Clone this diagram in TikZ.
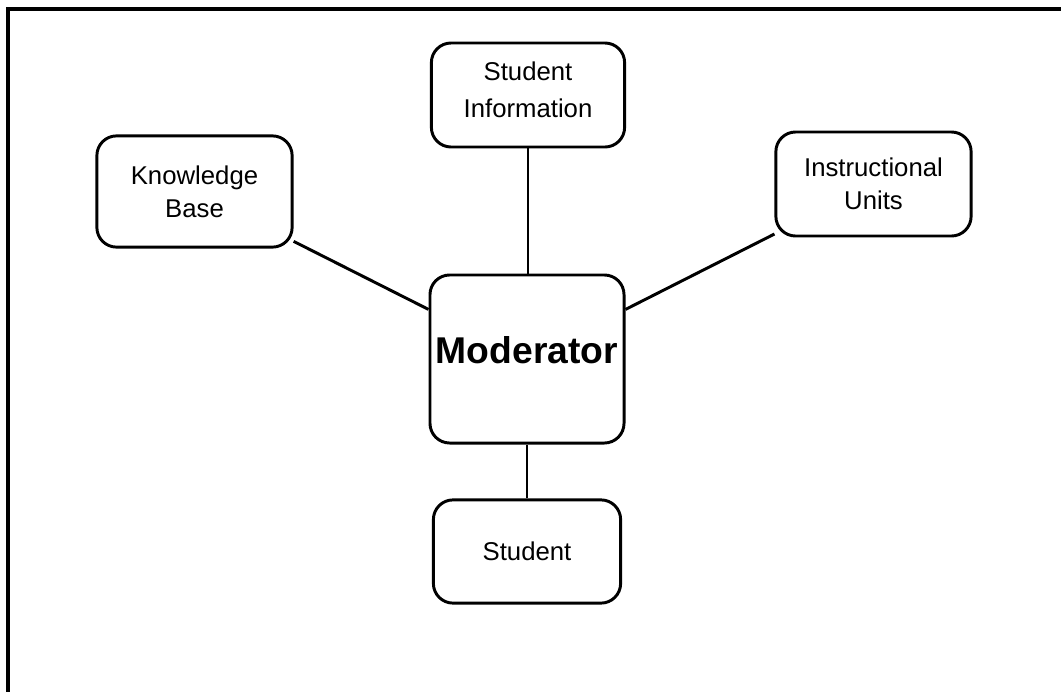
\documentclass[tikz,border=0pt]{standalone}
\usepackage{fontspec}
\setmainfont{Liberation Sans}
\usetikzlibrary{backgrounds}
\tikzset{
	unit/.style={draw, line width=2.1pt, rounded corners=14pt, fill=white, align=center,
		font=\fontsize{18.3}{23.5}\selectfont, inner sep=2pt},
	hub/.style={unit, font=\fontsize{26.5}{30}\selectfont\bfseries},
	link/.style={line width=2.1pt},
}
\begin{document}
\begin{tikzpicture}[x=0.025cm, y=-0.025cm]
\useasboundingbox (0,0) rectangle (1061,692);
\draw[line width=2.4pt] (1061,9) -- (8,9) -- (8,692);
\node[hub, minimum width=4.85cm, minimum height=4.2cm] (mod) at (527,359) {Moderator\\[-17pt]};
\node[unit, minimum width=4.83cm, minimum height=2.6cm] (info) at (528,95) {Student\\[2.7pt]Information\\[-15.7pt]};
\node[unit, minimum width=4.88cm, minimum height=2.78cm] (kb) at (194.5,191.5) {Knowledge\\Base};
\node[unit, minimum width=4.88cm, minimum height=2.6cm] (units) at (873.5,184) {Instructional\\Units};
\node[unit, minimum width=4.68cm, minimum height=2.58cm] (stud) at (527,551.5) {Student};
\begin{scope}[on background layer]
\draw[link] (kb) -- (mod);
\draw[link] (units) -- (mod);
\draw[link] (info.south) -- (info.south |- mod.north);
\draw[link] (stud.north) -- (stud.north |- mod.south);
\end{scope}
\end{tikzpicture}
\end{document}
